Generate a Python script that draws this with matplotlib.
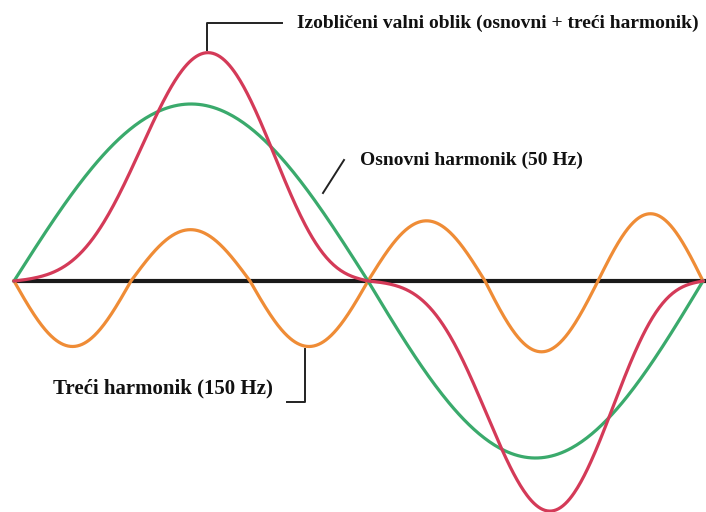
import numpy as np
import matplotlib
matplotlib.use("Agg")
import matplotlib.pyplot as plt

# ---- data (x in px-like time units, y in units of fundamental amplitude)
fund_zero_x = [0, 354, 689]                 # zero crossings of fundamental
fund_lobes = [1.0, -1.0]                    # half-cycle amplitudes of fundamental
third_zero_x = [0, 117, 236, 354, 471, 584, 689]   # zero crossings of 3rd harmonic
third_lobes = [-0.37, 0.29, -0.37, 0.34, -0.40, 0.38]  # half-cycle amplitudes of 3rd harmonic
distort_amt = [0.29, 0.30]                  # third-harmonic content of distorted wave per half-cycle
distort_peak_frac = [0.548, 0.543]          # where the distorted wave peaks inside each half-cycle

labels = {
    "distorted": "Izobličeni valni oblik (osnovni + treći harmonik)",
    "fund": "Osnovni harmonik (50 Hz)",
    "third": "Treći harmonik (150 Hz)",
}

GREEN = "#3aaa6c"
RED = "#d43a58"
ORANGE = "#ef8c36"

def lobes(zeros, amps, n=200):
    xs, ys = [], []
    for i, a in enumerate(amps):
        u = np.linspace(0, np.pi, n)
        xs.append(np.linspace(zeros[i], zeros[i + 1], n))
        ys.append(a * np.sin(u))
    return np.concatenate(xs), np.concatenate(ys)

def distorted(zeros, amps, k, peak, n=300):
    xs, ys = [], []
    for i, a in enumerate(amps):
        s = np.linspace(0, 1, n)
        p = np.log(0.5) / np.log(peak[i])
        u = np.pi * s ** p
        xs.append(zeros[i] + s * (zeros[i + 1] - zeros[i]))
        ys.append(a * (np.sin(u) - k[i] * np.sin(3 * u)))
    return np.concatenate(xs), np.concatenate(ys)

fig = plt.figure(figsize=(7.06, 5.12), dpi=100)
ax = fig.add_axes([0, 0, 1, 1])
ax.set_xlim(-14, 692)
ax.set_ylim(-231 / 177, 281 / 177)
ax.axis("off")

def px(x, y):
    return x - 14, (281 - y) / 177

# axis line
ax.plot([0, 692], [0, 0], color="#1a1a1a", lw=3.0, zorder=1, solid_capstyle="butt")

xf, yf = lobes(fund_zero_x, fund_lobes)
xt, yt = lobes(third_zero_x, third_lobes)
xd, yd = distorted(fund_zero_x, fund_lobes, distort_amt, distort_peak_frac)

ax.plot(xt, yt, color=ORANGE, lw=2.3, zorder=3)
ax.plot(xf, yf, color=GREEN, lw=2.3, zorder=4)
ax.plot(xd, yd, color=RED, lw=2.3, zorder=5)

font = dict(family="Liberation Serif", weight="bold", color="#111111")

# distorted label
x0, y0 = px(207, 50)
x1, y1 = px(207, 23)
x2, y2 = px(282, 23)
ax.plot([x0, x1, x2], [y0, y1, y2], color="#222222", lw=1.4, zorder=6)
tx, ty = px(297, 23)
ax.text(tx, ty, labels["distorted"], ha="left", va="center", size=14, **font)

# fundamental label
a0 = px(323, 193)
a1 = px(344, 160)
ax.plot([a0[0], a1[0]], [a0[1], a1[1]], color="#222222", lw=1.4, zorder=6)
tx, ty = px(360, 160)
ax.text(tx, ty, labels["fund"], ha="left", va="center", size=14, **font)

# third label
b0 = px(305, 349)
b1 = px(305, 402)
b2 = px(287, 402)
ax.plot([b0[0], b1[0], b2[0]], [b0[1], b1[1], b2[1]], color="#222222", lw=1.4, zorder=6)
tx, ty = px(53, 388)
ax.text(tx, ty, labels["third"], ha="left", va="center", size=15, **font)

fig.savefig("out.png", dpi=100, facecolor="white")
